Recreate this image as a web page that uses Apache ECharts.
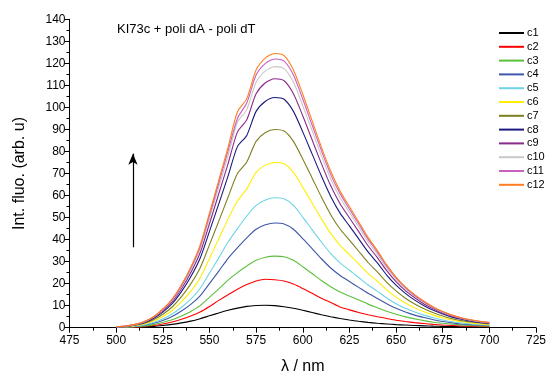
<!DOCTYPE html>
<html>
<head>
<meta charset="utf-8">
<script src="https://cdn.jsdelivr.net/npm/echarts@6/dist/echarts.min.js"></script>
<style>
html,body{margin:0;padding:0;background:#fff;}
#chart{width:548px;height:374px;}
</style>
</head>
<body>
<div id="chart"></div>
<script>
// wavelengths 500..700 nm, 5 nm step
const wavelengths = [500,505,510,515,520,525,530,535,540,545,550,555,560,565,570,575,580,585,590,595,600,605,610,615,620,625,630,635,640,645,650,655,660,665,670,675,680,685,690,695,700];
const seriesNames = ['c1','c2','c3','c4','c5','c6','c7','c8','c9','c10','c11','c12'];
const c1 = [0.1,0.1,0.2,0.4,0.6,1.0,1.5,2.2,3.0,4.1,5.4,6.7,7.9,8.9,9.7,10.1,10.2,10.0,9.5,8.8,7.9,6.9,5.9,5.0,4.2,3.5,2.9,2.4,2.0,1.7,1.4,1.2,1.0,0.85,0.7,0.6,0.5,0.45,0.4,0.35,0.3];
const c2 = [0.1,0.2,0.3,0.6,1.0,1.7,2.6,3.8,5.3,7.1,9.6,12.4,15.0,17.5,19.6,21.2,22.0,21.8,21.2,19.8,17.8,15.6,13.4,11.4,9.4,8.1,6.9,5.9,5.0,4.2,3.4,2.8,2.3,1.9,1.5,1.2,1.0,0.8,0.7,0.6,0.5];
const c3 = [0.1,0.2,0.4,0.8,1.4,2.4,3.6,5.3,7.4,10.0,13.8,17.6,21.6,25.0,28.0,30.6,32.0,32.5,32.2,30.6,27.7,24.6,21.4,18.6,16.2,14.4,12.6,10.7,9.1,7.5,6.1,4.9,4.0,3.2,2.5,2.0,1.6,1.3,1.0,0.8,0.7];
const c4 = [0.1,0.3,0.6,1.1,2.0,3.3,5.1,7.6,10.6,14.5,20.0,25.7,31.5,36.3,40.8,44.7,46.7,47.5,47.1,44.7,40.4,35.9,31.3,27.1,23.7,21.0,18.3,15.6,13.3,10.9,8.8,7.1,5.7,4.6,3.6,2.8,2.2,1.7,1.4,1.1,0.9];
const c5 = [0.2,0.4,0.7,1.3,2.4,4.0,6.2,9.3,13.0,17.8,24.7,31.7,38.9,45.0,50.7,55.5,58.0,59.0,58.5,55.5,50.2,44.5,38.9,33.6,29.4,26.1,22.8,19.4,16.6,13.5,10.9,8.8,7.1,5.7,4.5,3.5,2.7,2.1,1.7,1.4,1.1];
const c6 = [0.2,0.4,0.9,1.7,3.0,5.1,7.8,11.8,16.6,22.6,31.4,40.4,49.4,57.5,63.0,70.5,73.8,75.0,74.4,70.5,63.8,56.6,49.4,42.8,37.4,33.2,29.0,24.7,21.1,17.2,13.9,11.2,9.0,7.2,5.7,4.4,3.5,2.7,2.2,1.7,1.4];
const c7 = [0.3,0.5,1.1,2.0,3.6,6.1,9.4,14.1,19.9,27.1,37.6,48.4,59.3,70.0,75.2,84.6,88.6,90.0,89.3,84.6,76.6,68.0,59.3,51.3,44.8,39.8,34.7,29.6,25.3,20.6,16.7,13.4,10.8,8.6,6.8,5.3,4.1,3.2,2.6,2.1,1.7];
const c8 = [0.3,0.6,1.3,2.3,4.2,7.1,10.9,16.4,23.1,31.5,43.7,56.2,68.9,82.2,87.3,98.2,102.8,104.5,103.7,98.2,88.9,78.9,68.9,59.6,52.0,46.2,40.3,34.4,29.4,23.9,19.3,15.6,12.5,10.0,7.9,6.2,4.8,3.8,3.0,2.4,2.0];
const c9 = [0.3,0.7,1.4,2.5,4.5,7.7,11.8,17.7,25.0,34.0,47.2,60.8,74.5,88.9,94.4,106.2,111.2,113.0,112.1,106.2,96.2,85.3,74.5,64.4,56.3,49.9,43.6,37.2,31.8,25.9,20.9,16.8,13.6,10.8,8.6,6.7,5.2,4.1,3.3,2.6,2.1];
const c10 = [0.4,0.7,1.4,2.6,4.8,8.1,12.4,18.6,26.2,35.7,49.5,63.8,78.1,93.3,99.0,111.4,116.6,118.5,117.6,111.4,100.8,89.5,78.1,67.5,59.0,52.4,45.7,39.0,33.3,27.1,21.9,17.7,14.2,11.4,9.0,7.0,5.5,4.3,3.4,2.7,2.3];
const c11 = [0.4,0.7,1.4,2.7,4.9,8.3,12.7,19.1,27.0,36.7,51.0,65.6,80.4,95.0,102.0,114.7,120.0,122.0,121.0,114.7,103.8,92.0,80.4,69.5,60.8,53.9,47.1,40.2,34.3,27.9,22.6,18.2,14.6,11.7,9.2,7.2,5.6,4.4,3.5,2.8,2.3];
const c12 = [0.4,0.8,1.5,2.8,5.0,8.5,13.0,19.5,27.5,37.5,52.0,67.0,82.0,98.0,104.0,117.0,122.5,124.5,123.5,117.0,106.0,94.0,82.0,71.0,62.0,55.0,48.0,41.0,35.0,28.5,23.0,18.5,15.0,12.0,9.4,7.3,5.7,4.5,3.6,2.9,2.4];
const allValues = [c1,c2,c3,c4,c5,c6,c7,c8,c9,c10,c11,c12];
const colors = ['#000000','#ff0000','#5cbf3c','#3f57a8','#6fd3e3','#ffee00','#7f7f20','#1a1a80','#8a2a8a','#c8c8c8','#c860c0','#ff7f20'];
const xTicks = {min:475, max:725, interval:25};
const yTicks = {min:0, max:140, interval:10};
const titleText = 'KI73c + poli dA - poli dT';
const arrowStart = [509, 36.5];
const arrowEnd = [509, 79];

const font = 'Liberation Sans, Arial, sans-serif';
const series = seriesNames.map((n,i)=>({
  name:n, type:'line', showSymbol:false, symbol:'none', smooth:0.25,
  data: wavelengths.map((w,j)=>[w, allValues[i][j]]),
  lineStyle:{width:1.1, color:colors[i]}, itemStyle:{color:colors[i]},
  z: 2+i, animation:false
}));
series[0].markLine = {
  silent:true, symbol:['none','arrow'], symbolSize:[7,11], animation:false,
  label:{show:false},
  lineStyle:{color:'#000', width:1.2, type:'solid'},
  data:[[{coord:arrowStart},{coord:arrowEnd}]]
};

const chart = echarts.init(document.getElementById('chart'), null, {renderer:'canvas'});
chart.setOption({
  backgroundColor:'#fff',
  animation:false,
  title:{text:titleText, left:112, top:18, textStyle:{fontFamily:font, fontSize:13, fontWeight:'normal', color:'#000'}},
  legend:{
    orient:'vertical', left:494, top:22, itemWidth:25, itemHeight:2, itemGap:1.8,
    icon:'rect', data:seriesNames,
    textStyle:{fontFamily:font, fontSize:11, color:'#000', lineHeight:12, padding:[0,0,0,-2]}
  },
  grid:{left:69.5, right:12, top:19.3, bottom:46.3, containLabel:false, outerBoundsMode:'none'},
  xAxis:{
    type:'value', min:xTicks.min, max:xTicks.max, interval:xTicks.interval,
    name:'λ / nm', nameLocation:'middle', nameGap:31,
    nameTextStyle:{fontFamily:font, fontSize:16, color:'#000'},
    axisLine:{show:true, lineStyle:{color:'#000', width:1}},
    axisTick:{show:true, inside:false, length:5, lineStyle:{color:'#000'}},
    minorTick:{show:true, splitNumber:2, length:3, lineStyle:{color:'#000'}},
    axisLabel:{fontFamily:font, fontSize:12, color:'#000', margin:7},
    splitLine:{show:false}
  },
  yAxis:{
    type:'value', min:yTicks.min, max:yTicks.max, interval:yTicks.interval,
    name:'Int. fluo. (arb. u)', nameLocation:'middle', nameGap:42, nameRotate:90,
    nameTextStyle:{fontFamily:font, fontSize:16, color:'#000'},
    axisLine:{show:true, lineStyle:{color:'#000', width:1}},
    axisTick:{show:true, inside:false, length:5, lineStyle:{color:'#000'}},
    minorTick:{show:true, splitNumber:2, length:3, lineStyle:{color:'#000'}},
    axisLabel:{fontFamily:font, fontSize:12, color:'#000', margin:4},
    splitLine:{show:false}
  },
  series: series
});
</script>
</body>
</html>
